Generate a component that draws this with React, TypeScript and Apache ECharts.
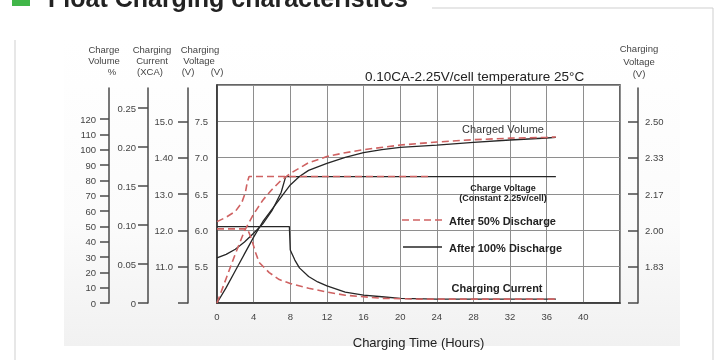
import React, { useEffect, useRef } from 'react';
import * as echarts from 'echarts';

// ---- tick labels ----
const hourTicks = [0, 4, 8, 12, 16, 20, 24, 28, 32, 36, 40];
const volumeTicks = [0, 10, 20, 30, 40, 50, 60, 70, 80, 90, 100, 110, 120];
const currentTicks = [0, 0.05, 0.1, 0.15, 0.2, 0.25];
const batteryVoltTicks = [5.5, 6, 6.5, 7, 7.5];
const packVoltTicks = [11, 12, 13, 14, 15];
const packVoltLabels = ['11.0', '12.0', '13.0', '1.40', '15.0'];
const cellVoltLabels = ['1.83', '2.00', '2.17', '2.33', '2.50'];

// ---- series: [hours, value] ----
// Charged volume (%)
const volume100 = [
  [0, 0], [1, 10], [2, 21], [3, 32], [4, 43], [5, 53], [6, 61], [7, 69], [8, 77], [9, 82.5],
  [10, 86.5], [12, 91], [14, 95], [16, 98], [18, 100], [20, 101.5], [24, 103], [28, 104.8],
  [32, 106.3], [36, 107.6], [37, 108],
];
const volume50 = [
  [0, 0], [1, 16], [2, 32], [3, 47], [4, 58], [5, 67], [6, 74], [7, 80], [8, 84.5], [10, 91.5],
  [12, 95.5], [14, 98], [16, 100], [20, 103], [24, 105], [28, 106.5], [32, 107.5], [36, 108], [37, 108.3],
];
// Charging voltage (V, 6V block)
const voltage100 = [
  [0, 5.62], [1, 5.67], [2, 5.74], [3, 5.84], [4, 5.96], [5, 6.09], [6, 6.27], [7, 6.52], [7.5, 6.74], [37, 6.74],
];
const voltage50 = [
  [0, 6.12], [1, 6.18], [2, 6.26], [2.7, 6.38], [3.1, 6.52], [3.3, 6.66], [3.5, 6.74], [23.3, 6.74],
];
// Charging current (xCA)
const current100 = [
  [0, 0.098], [7.9, 0.098], [8, 0.068], [8.5, 0.055], [9, 0.045], [10, 0.034], [11, 0.027],
  [12, 0.022], [14, 0.014], [16, 0.01], [18, 0.008], [20, 0.006], [24, 0.005], [37, 0.005],
];
const current50 = [
  [0, 0.095], [3.3, 0.095], [3.5, 0.09], [3.8, 0.081], [4.2, 0.065], [4.6, 0.052], [5.7, 0.039],
  [6.8, 0.03], [8, 0.025], [10, 0.019], [12, 0.014], [14, 0.01], [16, 0.008], [18, 0.006],
  [22, 0.005], [37, 0.005],
];

const RED = '#cf6262';
const BLACK = '#262626';
const AXIS = '#4a4a4a';
const GRIDLINE = '#8e8e8e';
const FONT = 'Liberation Sans, Arial, sans-serif';

// plot geometry
const PLOT_TOP = 85;
const PLOT_BOTTOM = 303;
const AXES_TOP = 88;
const H = PLOT_BOTTOM - PLOT_TOP;
const h = PLOT_BOTTOM - AXES_TOP;
const PX_PER_VOLT = H / 3;
const PX_PER_PCT = 184 / 120;
const PX_PER_CA = 780;

const decoAxis = (extra: any) => ({
  type: 'value',
  position: 'left',
  axisLine: { show: true, lineStyle: { color: AXIS, width: 1.5 } },
  axisTick: { show: true, length: 9, lineStyle: { color: AXIS, width: 1.5 } },
  splitLine: { show: false },
  axisLabel: { color: '#444', fontSize: 9.5, fontFamily: FONT, margin: 13 },
  ...extra,
});

const header = (text: string, x: number, y: number) => ({
  type: 'text',
  x,
  y,
  style: { text, fill: '#444', font: `9.5px ${FONT}`, textAlign: 'center', textVerticalAlign: 'middle' },
});

function buildOption() {
  return {
    animation: false,
    textStyle: { fontFamily: FONT },
    grid: [
      { left: 217, top: PLOT_TOP, width: 403, height: H, show: true, borderColor: '#333', borderWidth: 1.5, backgroundColor: '#ffffff', z: 0 },
      { left: 109, top: AXES_TOP, width: 1, height: h },
      { left: 148, top: AXES_TOP, width: 1, height: h },
      { left: 188, top: AXES_TOP, width: 1, height: h },
      { left: 638, top: AXES_TOP, width: 1, height: h },
    ],
    xAxis: [
      {
        type: 'value', gridIndex: 0, min: 0, max: 44, interval: 4,
        axisLine: { show: true, lineStyle: { color: '#333', width: 1.5 } },
        axisTick: { show: false },
        splitLine: { show: true, lineStyle: { color: GRIDLINE, width: 1 } },
        axisLabel: { customValues: hourTicks, color: '#444', fontSize: 9.5, margin: 8 },
        name: 'Charging Time (Hours)', nameLocation: 'middle', nameGap: 39,
        nameTextStyle: { fontSize: 13, color: '#222', verticalAlign: 'middle' },
      },
      { type: 'value', gridIndex: 1, show: false },
      { type: 'value', gridIndex: 2, show: false },
      { type: 'value', gridIndex: 3, show: false },
      { type: 'value', gridIndex: 4, show: false },
    ],
    yAxis: [
      // 0: battery voltage (inner) — main grid
      {
        type: 'value', gridIndex: 0, min: 5, max: 8, interval: 0.5,
        axisLine: { show: true, lineStyle: { color: '#333', width: 1.5 } },
        axisTick: { show: false },
        splitLine: { show: true, lineStyle: { color: GRIDLINE, width: 1 } },
        axisLabel: { customValues: batteryVoltTicks, color: '#444', fontSize: 9.5, margin: 9, formatter: (v: number) => v.toFixed(1) },
      },
      // 1: charge volume (hidden, main grid)
      { type: 'value', gridIndex: 0, show: false, min: 0, max: H / PX_PER_PCT, splitLine: { show: false } },
      // 2: charging current (hidden, main grid)
      { type: 'value', gridIndex: 0, show: false, min: 0, max: H / PX_PER_CA, splitLine: { show: false } },
      // 3: charge volume axis
      decoAxis({
        gridIndex: 1, min: 0, max: h / PX_PER_PCT,
        axisTick: { show: true, length: 9, customValues: volumeTicks, lineStyle: { color: AXIS, width: 1.5 } },
        axisLabel: { customValues: volumeTicks, color: '#444', fontSize: 9.5, margin: 13 },
      }),
      // 4: charging current axis
      decoAxis({
        gridIndex: 2, min: 0, max: h / PX_PER_CA,
        axisTick: { show: true, length: 10, customValues: currentTicks, lineStyle: { color: AXIS, width: 1.5 } },
        axisLabel: {
          customValues: currentTicks, color: '#444', fontSize: 9.5, margin: 12,
          formatter: (v: number) => (v === 0 ? '0' : v.toFixed(2)),
        },
      }),
      // 5: charging voltage (12V pack) axis
      decoAxis({
        gridIndex: 3, min: 10, max: 10 + h / (PX_PER_VOLT / 2),
        axisTick: { show: true, length: 10, customValues: [10, ...packVoltTicks], lineStyle: { color: AXIS, width: 1.5 } },
        axisLabel: {
          customValues: packVoltTicks, color: '#444', fontSize: 9.5, margin: 15,
          formatter: (v: number) => packVoltLabels[packVoltTicks.indexOf(Math.round(v))] ?? '',
        },
      }),
      // 6: charging voltage per cell (right)
      decoAxis({
        gridIndex: 4, position: 'right', min: 5 / 3, max: 5 / 3 + h / (PX_PER_VOLT * 3),
        axisTick: { show: true, inside: true, length: 10, customValues: [5 / 3, ...batteryVoltTicks.map((v) => v / 3)], lineStyle: { color: AXIS, width: 1.5 } },
        axisLabel: {
          customValues: batteryVoltTicks.map((v) => v / 3), color: '#444', fontSize: 9.5, margin: 6,
          formatter: (v: number) => cellVoltLabels[batteryVoltTicks.indexOf(Math.round(v * 6) / 2)] ?? '',
        },
      }),
    ],
    series: [
      { type: 'line', xAxisIndex: 0, yAxisIndex: 1, data: volume100, symbol: 'none', lineStyle: { color: BLACK, width: 1.3 }, z: 3 },
      { type: 'line', xAxisIndex: 0, yAxisIndex: 0, data: voltage100, symbol: 'none', lineStyle: { color: BLACK, width: 1.3 }, z: 3 },
      { type: 'line', xAxisIndex: 0, yAxisIndex: 2, data: current100, symbol: 'none', lineStyle: { color: BLACK, width: 1.3 }, z: 3 },
      { type: 'line', xAxisIndex: 0, yAxisIndex: 1, data: volume50, symbol: 'none', lineStyle: { color: RED, width: 1.6, type: [7, 4] }, z: 4 },
      { type: 'line', xAxisIndex: 0, yAxisIndex: 0, data: voltage50, symbol: 'none', lineStyle: { color: RED, width: 1.6, type: [7, 4] }, z: 4 },
      { type: 'line', xAxisIndex: 0, yAxisIndex: 2, data: current50, symbol: 'none', lineStyle: { color: RED, width: 1.6, type: [7, 4] }, z: 4 },
    ],
    graphic: [
      {
        type: 'rect', z: -10, silent: true,
        shape: { x: 64, y: 40, width: 616, height: 306 },
        style: {
          fill: new echarts.graphic.LinearGradient(0, 0, 0, 1, [
            { offset: 0, color: '#ffffff' },
            { offset: 0.6, color: '#fbfbfb' },
            { offset: 1, color: '#f1f1f1' },
          ]),
        },
      },
      // page frame
      { type: 'line', shape: { x1: 432, y1: 8, x2: 713, y2: 8 }, style: { stroke: '#cfcfcf', lineWidth: 1 } },
      { type: 'line', shape: { x1: 713, y1: 8, x2: 713, y2: 360 }, style: { stroke: '#cfcfcf', lineWidth: 1 } },
      { type: 'line', shape: { x1: 15, y1: 40, x2: 15, y2: 360 }, style: { stroke: '#cfcfcf', lineWidth: 1 } },
      // page title (top edge cropped, as in the reference)
      { type: 'rect', shape: { x: 12, y: -12, width: 18, height: 18 }, style: { fill: '#41b649' } },
      {
        type: 'text', x: 48, y: 10,
        style: { text: 'Float Charging characteristics', fill: '#222', font: `bold 25px ${FONT}`, textVerticalAlign: 'bottom' },
      },
      // axis headers
      header('Charge', 104, 49), header('Volume', 104, 60), header('%', 112, 71),
      header('Charging', 152, 49), header('Current', 152, 60), header('(XCA)', 150, 71),
      header('Charging', 200, 49), header('Voltage', 199, 60), header('(V)', 188, 71), header('(V)', 217, 71),
      header('Charging', 639, 48), header('Voltage', 639, 61), header('(V)', 639, 73),
      // plot title
      {
        type: 'text', x: 365, y: 76,
        style: { text: '0.10CA-2.25V/cell temperature 25°C', fill: '#222', font: `13.5px ${FONT}`, textVerticalAlign: 'middle' },
      },
      // annotations
      {
        type: 'text', x: 503, y: 129, z: 10,
        style: { text: 'Charged Volume', fill: '#333', font: `11px ${FONT}`, textAlign: 'center', textVerticalAlign: 'middle' },
      },
      {
        type: 'text', x: 503, y: 188, z: 10,
        style: { text: 'Charge Voltage', fill: '#222', font: `bold 9px ${FONT}`, textAlign: 'center', textVerticalAlign: 'middle' },
      },
      {
        type: 'text', x: 503, y: 198, z: 10,
        style: { text: '(Constant 2.25v/cell)', fill: '#222', font: `bold 9px ${FONT}`, textAlign: 'center', textVerticalAlign: 'middle' },
      },
      {
        type: 'text', x: 497, y: 288, z: 10,
        style: { text: 'Charging Current', fill: '#222', font: `bold 11px ${FONT}`, textAlign: 'center', textVerticalAlign: 'middle' },
      },
      // legend
      { type: 'line', z: 10, shape: { x1: 402, y1: 220, x2: 442, y2: 220 }, style: { stroke: RED, lineWidth: 1.6, lineDash: [7, 4] } },
      {
        type: 'text', x: 449, y: 221, z: 10,
        style: { text: 'After 50% Discharge', fill: '#222', font: `bold 11px ${FONT}`, textVerticalAlign: 'middle' },
      },
      { type: 'line', z: 10, shape: { x1: 403, y1: 247, x2: 442, y2: 247 }, style: { stroke: BLACK, lineWidth: 1.3 } },
      {
        type: 'text', x: 449, y: 248, z: 10,
        style: { text: 'After 100% Discharge', fill: '#222', font: `bold 11px ${FONT}`, textVerticalAlign: 'middle' },
      },
    ],
  };
}

export default function App() {
  const ref = useRef<HTMLDivElement>(null);
  useEffect(() => {
    if (!ref.current) return;
    const chart = echarts.init(ref.current, null, { renderer: 'svg' });
    chart.setOption(buildOption() as any);
    return () => chart.dispose();
  }, []);
  return <div ref={ref} style={{ position: 'fixed', left: 0, top: 0, width: 718, height: 360 }} />;
}
